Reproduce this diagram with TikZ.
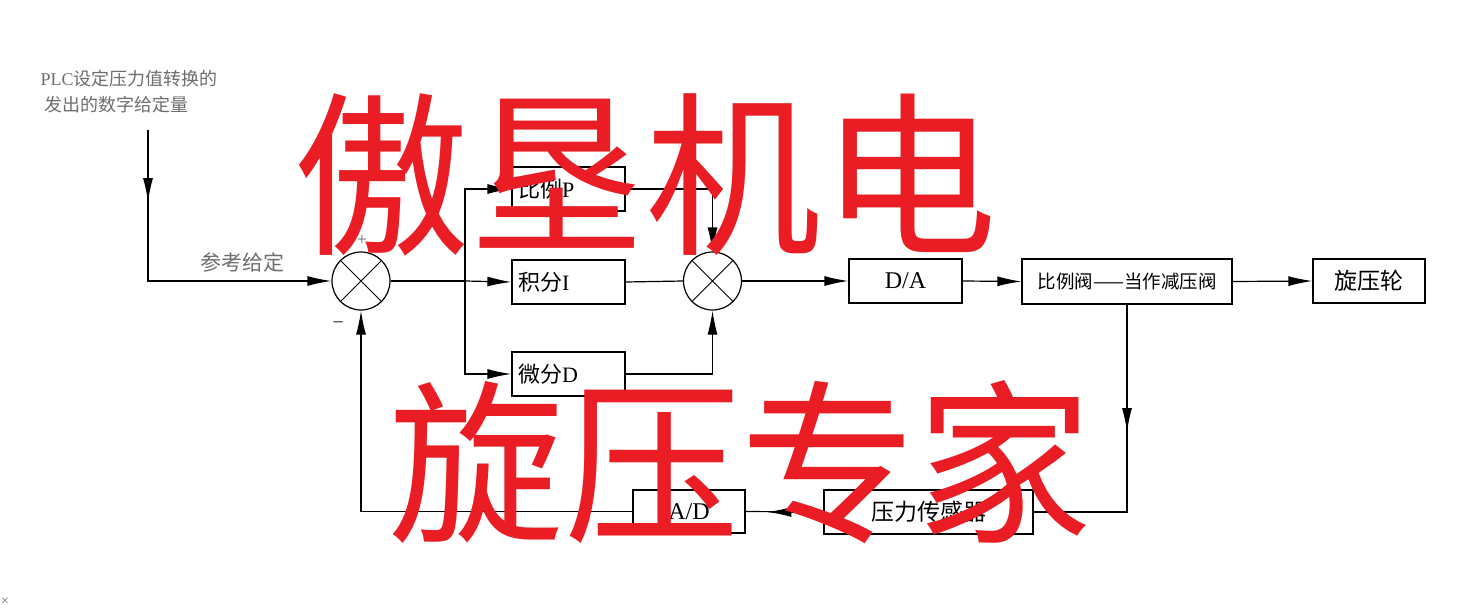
\documentclass[tikz,border=0pt]{standalone}
\usepackage{fontspec}
\setmainfont{Liberation Serif}
\newfontfamily\cjk{Noto Sans CJK SC}
\usetikzlibrary{arrows.meta}
\definecolor{wmred}{RGB}{234,28,36}
\definecolor{faded}{RGB}{110,110,110}
\begin{document}
\begin{tikzpicture}[x=1pt,y=-1pt,
  line width=1.2pt,
  >={Latex[length=24pt,width=10pt]},
  blockl/.style={draw, line width=1.2pt, minimum height=44pt, inner ysep=0pt, inner xsep=6pt,
                 text width=#1, align=left, font=\fontsize{22}{24}\selectfont},
  blockc/.style={draw, line width=1.2pt, minimum height=44pt, inner sep=0pt,
                 minimum width=#1, align=center, font=\fontsize{24}{26}\selectfont},
  sumc/.style={draw, circle, line width=1.2pt, minimum size=58pt, inner sep=0pt},
  wmtext/.style={text=wmred, font=\cjk\fontsize{176}{180}\selectfont, inner sep=0pt},
  fadetext/.style={text=faded, inner sep=0pt}
]
\useasboundingbox (0,0) rectangle (1466,615);
\fill[white] (0,0) rectangle (1466,615);

% blocks
\node[blockl=101pt] (P) at (568.5,189) {{\cjk 比例}P};
\node[blockl=101pt] (I) at (568.5,282) {{\cjk 积分}I};
\node[blockl=101pt] (D) at (568.5,374) {{\cjk 微分}D};
\node[blockc=113pt] (DA) at (905.5,281) {D/A};
\node[draw, line width=1.2pt, minimum height=45pt, minimum width=210pt, inner sep=0pt,
      font=\cjk\fontsize{18.5}{20}\selectfont] (V) at (1127,281.5) {比例阀——当作减压阀};
\node[blockc=112pt, font=\cjk\fontsize{23}{24}\selectfont] (W) at (1369,281) {旋压轮};
\node[blockc=112pt, minimum height=43pt] (AD) at (689,511.5) {A/D};
\node[blockc=209pt, font=\cjk\fontsize{23}{24}\selectfont] (S) at (928.5,512) {压力传感器};

% summing junctions
\node[sumc] (s1) at (361,281) {};
\draw[line width=0.8pt] (s1.45) -- (s1.225) (s1.135) -- (s1.315);
\node[sumc] (s2) at (712.5,281) {};
\draw[line width=0.8pt] (s2.45) -- (s2.225) (s2.135) -- (s2.315);

% signs
\node[fadetext, font=\fontsize{18}{20}\selectfont] (plus1) at (362,240) {+};
\node[inner sep=0pt, font=\fontsize{18}{20}\selectfont] (minus1) at (338,324) {\textendash};

% input
\node[fadetext, anchor=west, font=\fontsize{18}{20}\selectfont] (txt1) at (40,79) {PLC{\cjk 设定压力值转换的}};
\node[fadetext, anchor=west, font=\cjk\fontsize{18}{20}\selectfont] (txt2) at (44,105) {发出的数字给定量};
\coordinate (in) at (148,130);
\draw[->] (in) -- (148,202);
\draw[->] (in) |- (s1.west);
\node[fadetext, font=\cjk\fontsize{21}{24}\selectfont] (ref) at (242,262) {参考给定};

% PID branches
\coordinate (j) at (465,281);
\draw (s1.east) -- (j);
\draw[->] (j) -- (I.west);
\draw[->] (j) |- (P.west);
\draw[->] (j) |- (D.west);
\draw[->] (P.east) -| (s2.north);
\draw[->] (D.east) -| (s2.south);
\draw (I.east) -- (s2.west);

% forward path
\draw[->] (s2.east) -- (DA.west);
\draw[->] (DA.east) -- (V.west);
\draw[->] (V.east) -- (W.west);

% feedback path
\draw[->] (V.south) -- (1127,432);
\draw (V.south) |- (S.east);
\draw (S.west) -- (AD.east);
\draw[->] (S.west) -- ++(-56,0);
\draw[->] (AD.west) -| (s1.south);

% stray mark
\node[fadetext, font=\fontsize{14}{16}\selectfont] (xmark) at (5,602) {×};

% watermark
\node[wmtext] (wm1) at (645,175) {傲垦机电};
\node[wmtext] (wm2) at (740,462) {旋压专家};
\end{tikzpicture}
\end{document}
